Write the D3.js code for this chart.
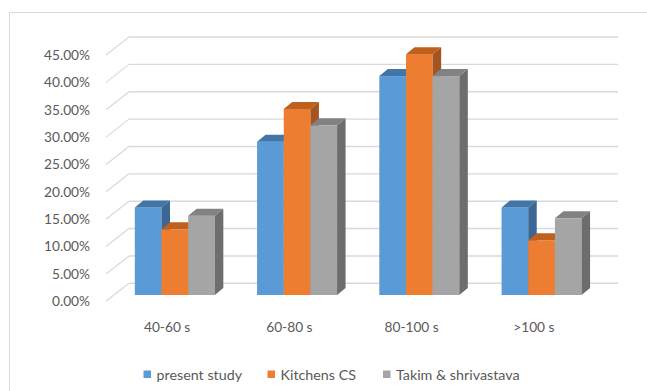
<!DOCTYPE html>
<html>
<head>
<meta charset="utf-8">
<script src="https://cdn.jsdelivr.net/npm/d3@7/dist/d3.min.js"></script>
<style>
  html, body { margin: 0; padding: 0; background: #fff; }
  svg { display: block; }
  text { font-family: Lato, "Open Sans", sans-serif; fill: #595959; }
</style>
</head>
<body>
<svg id="chart" width="647" height="391"></svg>
<script>
// Share of cases per time bucket, three studies
const categories = ["40-60 s", "60-80 s", "80-100 s", ">100 s"];
const seriesNames = ["present study", "Kitchens CS", "Takim & shrivastava"];
const presentStudy = [0.16, 0.28, 0.40, 0.16];
const kitchensCS = [0.12, 0.34, 0.44, 0.10];
const takimShrivastava = [0.145, 0.31, 0.40, 0.14];
const yTicks = [0, 0.05, 0.10, 0.15, 0.20, 0.25, 0.30, 0.35, 0.40, 0.45];

const seriesValues = [presentStudy, kitchensCS, takimShrivastava];
const faceColors = [
  { front: "#5b9bd5", top: "#4276a9", side: "#3a6794" },
  { front: "#ed7d31", top: "#c0601f", side: "#a35420" },
  { front: "#a5a5a5", top: "#828282", side: "#6d6d6d" }
];

const svg = d3.select("#chart");

// Outer frame (only top/left edges fall inside the view)
svg.append("rect")
  .attr("x", 9.5).attr("y", 12.5)
  .attr("width", 700).attr("height", 500)
  .attr("fill", "none").attr("stroke", "#d9d9d9").attr("stroke-width", 1);

// Oblique projection: back wall plane, front plane and bar plane
const wallDepth = { dx: 23, dy: 18 };            // back wall -> front edge
const barOffset = { dx: 15.3, dy: 11.7 };        // back wall -> bar front face
const barDepth = { dx: 8.5, dy: 7 };             // bar front -> bar back

const yBack = d3.scaleLinear().domain([0, 0.45]).range([283.3, 37]);
const xBack = d3.scaleBand().domain(categories).range([129, 618]);
const xFront = d3.scaleBand().domain(categories).range([129 - wallDepth.dx, 618 - wallDepth.dx]);
const xBar = d3.scaleBand().domain(categories).range([129 - barOffset.dx, 618 - barOffset.dx]);
const xInner = d3.scaleBand().domain(d3.range(seriesNames.length)).range([0, 80]);

const gridColor = "#d9d9d9";

// Back-wall gridlines and side-wall diagonals
const grid = svg.append("g");
yTicks.forEach(t => {
  grid.append("line")
    .attr("x1", xBack.range()[0]).attr("x2", xBack.range()[1])
    .attr("y1", yBack(t)).attr("y2", yBack(t))
    .attr("stroke", gridColor).attr("stroke-width", 1.4);
  grid.append("line")
    .attr("x1", xBack.range()[0] - wallDepth.dx).attr("y1", yBack(t) + wallDepth.dy)
    .attr("x2", xBack.range()[0]).attr("y2", yBack(t))
    .attr("stroke", gridColor).attr("stroke-width", 1.2);
});

// Value axis labels at the front edge of the side wall
const fmt = d3.format(".2%");
svg.append("g").selectAll("text").data(yTicks).join("text")
  .attr("x", 90)
  .attr("y", d => yBack(d) + wallDepth.dy)
  .attr("dy", "0.35em")
  .attr("text-anchor", "end")
  .style("font-size", "13.7px")
  .text(d => fmt(d));

// Bars drawn as front, top and side faces
const barBase = yBack(0) + barOffset.dy;
const barScale = d3.scaleLinear().domain([0, 0.45]).range([barBase, yBack(0.45) + barOffset.dy]);
const bars = svg.append("g");
categories.forEach((cat, ci) => {
  const groupStart = xBar(cat) + (xBar.bandwidth() - 80) / 2;
  seriesValues.forEach((vals, si) => {
    const x0 = groupStart + xInner(si);
    const x1 = x0 + xInner.bandwidth();
    const yTop = barScale(vals[ci]);
    const c = faceColors[si];
    const g = bars.append("g");
    g.append("rect")
      .attr("x", x0).attr("y", yTop)
      .attr("width", x1 - x0).attr("height", barBase - yTop)
      .attr("fill", c.front);
    g.append("path")
      .attr("d", d3.line()([[x0, yTop], [x0 + barDepth.dx, yTop - barDepth.dy],
        [x1 + barDepth.dx, yTop - barDepth.dy], [x1, yTop]]) + "Z")
      .attr("fill", c.top);
    g.append("path")
      .attr("d", d3.line()([[x1, yTop], [x1 + barDepth.dx, yTop - barDepth.dy],
        [x1 + barDepth.dx, barBase - barDepth.dy], [x1, barBase]]) + "Z")
      .attr("fill", c.side);
  });
});

// Category labels along the front edge
svg.append("g").selectAll("text").data(categories).join("text")
  .attr("x", d => xFront(d) + xFront.bandwidth() / 2)
  .attr("y", 327)
  .attr("dy", "0.35em")
  .attr("text-anchor", "middle")
  .style("font-size", "13.7px")
  .text(d => d);

// Legend
const legendX = [143.5, 267.5, 383];
const legend = svg.append("g");
seriesNames.forEach((name, i) => {
  legend.append("rect")
    .attr("x", legendX[i]).attr("y", 370.5)
    .attr("width", 7.5).attr("height", 7.5)
    .attr("fill", faceColors[i].front);
  legend.append("text")
    .attr("x", legendX[i] + 13).attr("y", 374.5)
    .attr("dy", "0.35em")
    .style("font-size", "14.3px")
    .text(name);
});
</script>
</body>
</html>
